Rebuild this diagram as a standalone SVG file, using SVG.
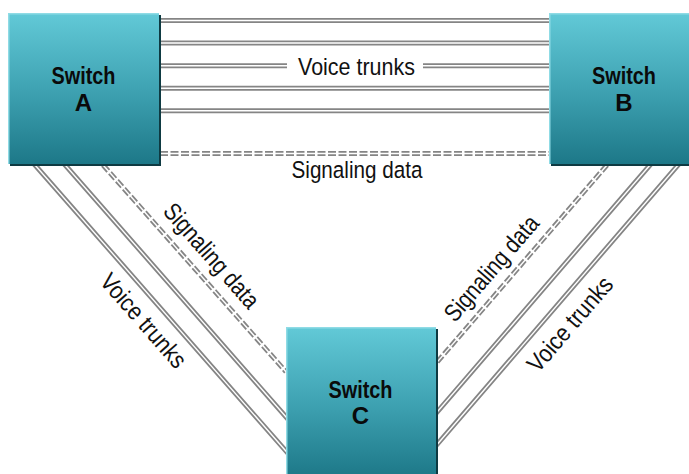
<svg xmlns="http://www.w3.org/2000/svg" width="689" height="474" viewBox="0 0 689 474">
  <defs>
    <linearGradient id="boxGrad" x1="0" y1="0" x2="0" y2="1">
      <stop offset="0" stop-color="#62c9d7"/>
      <stop offset="0.5" stop-color="#3fa3b3"/>
      <stop offset="1" stop-color="#1d7888"/>
    </linearGradient>
  </defs>
  <style>
    .wire { stroke: #858585; stroke-width: 5; fill: none; }
    .core { stroke: #ffffff; stroke-width: 1.4; fill: none; }
    .dash { stroke: #858585; stroke-width: 5; fill: none; stroke-dasharray: 8 2.5; }
    .lbl { font-family: "Liberation Sans", Arial, sans-serif; font-size: 24.5px; fill: #111; text-anchor: middle; }
    .sw { font-family: "Liberation Sans", Arial, sans-serif; font-size: 24px; font-weight: bold; fill: #0a0a0a; text-anchor: middle; }
    .shadow { fill: #0e3a42; }
    .box { fill: url(#boxGrad); }
    .hl { stroke: #8fdbe5; stroke-width: 1.5; fill: none; }
  </style>

  <g id="connectors">
    <g id="ab-voice">
      <path class="wire" d="M150 20.5H560M150 43H560M150 65.7H287M423 65.7H560M150 88.3H560M150 110.8H560"/>
      <path class="core" d="M150 20.5H560M150 43H560M150 65.7H287M423 65.7H560M150 88.3H560M150 110.8H560"/>
    </g>
    <g id="ab-sig">
      <path class="dash" d="M160 153.5H549"/>
      <path class="core" d="M150 153.5H560"/>
    </g>
    <g id="ac">
      <path class="wire" d="M21.8 150L290 455.7M52 150L290 421.5"/>
      <path class="core" d="M21.8 150L290 455.7M52 150L290 421.5"/>
      <path class="dash" d="M103 165L286 371.8"/>
      <path class="core" d="M90 150.3L290 376.3"/>
    </g>
    <g id="bc">
      <path class="wire" d="M691 150L430 452.7M663 150L430 420.3"/>
      <path class="core" d="M691 150L430 452.7M663 150L430 420.3"/>
      <path class="dash" d="M607 165L436 363.4"/>
      <path class="core" d="M620 150L430 370.4"/>
    </g>
  </g>

  <g id="switch-a">
    <rect class="shadow" x="10" y="15" width="151" height="151"/>
    <rect class="box" x="8" y="13" width="151" height="151"/>
    <path class="hl" d="M8.75 164V13.75H159"/>
    <text class="sw" x="83.5" y="84" textLength="64" lengthAdjust="spacingAndGlyphs">Switch</text>
    <text class="sw" x="83.5" y="111">A</text>
  </g>

  <g id="switch-b">
    <rect class="shadow" x="551" y="15" width="151" height="151"/>
    <rect class="box" x="549" y="13" width="151" height="151"/>
    <path class="hl" d="M549.75 164V13.75H700"/>
    <text class="sw" x="624" y="84" textLength="64" lengthAdjust="spacingAndGlyphs">Switch</text>
    <text class="sw" x="624" y="111">B</text>
  </g>

  <g id="switch-c">
    <rect class="shadow" x="288" y="329" width="150" height="150"/>
    <rect class="box" x="286" y="327" width="150" height="150"/>
    <path class="hl" d="M286.75 477V327.75H436"/>
    <text class="sw" x="360.5" y="398" textLength="64" lengthAdjust="spacingAndGlyphs">Switch</text>
    <text class="sw" x="360.5" y="424">C</text>
  </g>

  <g id="labels">
    <text class="lbl" x="356.5" y="75" textLength="117" lengthAdjust="spacingAndGlyphs">Voice trunks</text>
    <text class="lbl" x="357" y="178" textLength="131" lengthAdjust="spacingAndGlyphs">Signaling data</text>
    <g transform="translate(210.5 256.5) rotate(48.7)">
      <text class="lbl" x="0" y="7" textLength="131" lengthAdjust="spacingAndGlyphs">Signaling data</text>
    </g>
    <g transform="translate(142.5 321.5) rotate(48.7)">
      <text class="lbl" x="0" y="7" textLength="117" lengthAdjust="spacingAndGlyphs">Voice trunks</text>
    </g>
    <g transform="translate(492.5 269) rotate(-49.2)">
      <text class="lbl" x="0" y="7" textLength="131" lengthAdjust="spacingAndGlyphs">Signaling data</text>
    </g>
    <g transform="translate(571 325) rotate(-49.2)">
      <text class="lbl" x="0" y="7" textLength="117" lengthAdjust="spacingAndGlyphs">Voice trunks</text>
    </g>
  </g>
</svg>
